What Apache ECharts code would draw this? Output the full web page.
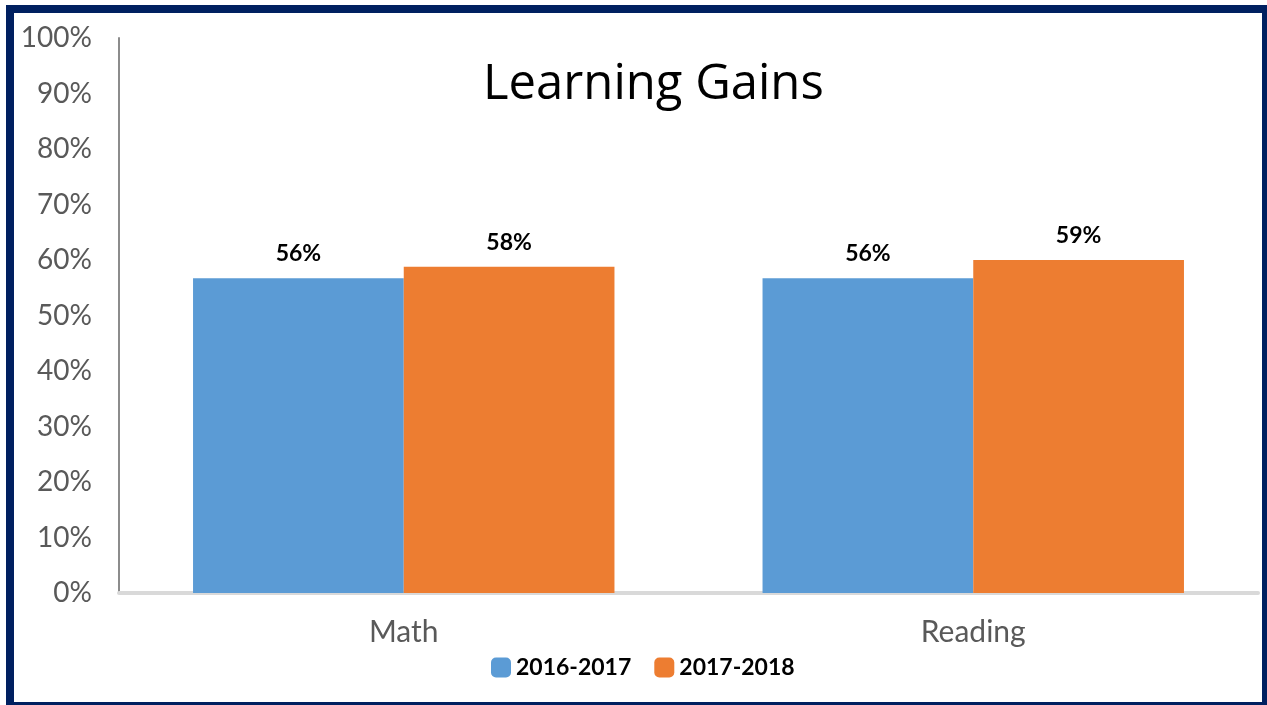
<!DOCTYPE html>
<html>
<head>
<meta charset="utf-8">
<title>Learning Gains</title>
<script src="https://cdn.jsdelivr.net/npm/echarts@6/dist/echarts.min.js"></script>
<style>
    html, body { margin: 0; padding: 0; background: #fff; overflow: hidden; }
    #main { width: 1267px; height: 705px; }
    #frame {
        position: absolute; left: 6px; top: 5px; width: 1264px; height: 705px;
        box-sizing: border-box; border: 8px solid #002060; pointer-events: none;
    }
</style>
</head>
<body>
<div id="main"></div>
<div id="frame"></div>
<script>
    // 数据
    var categories = ['Math', 'Reading'];
    var seriesNames = ['2016-2017', '2017-2018'];
    // bar heights
    var values1617 = [56.7, 56.7];
    var values1718 = [58.8, 60.0];
    // printed labels above the bars
    var labels1617 = ['56%', '56%'];
    var labels1718 = ['58%', '59%'];

    var myChart = echarts.init(document.getElementById('main'));

    function labelFrom(arr) {
        return {
            show: true,
            position: 'top',
            distance: 13,
            color: '#000',
            fontWeight: 'bold',
            fontSize: 23,
            fontFamily: 'Lato',
            formatter: function (p) { return arr[p.dataIndex]; }
        };
    }

    var option = {
        backgroundColor: '#fff',
        title: {
            text: 'Learning Gains',
            left: 478,
            top: 56,
            textStyle: { fontSize: 49, fontWeight: 'normal', color: '#000', fontFamily: 'Open Sans' }
        },
        legend: {
            data: seriesNames,
            left: 486,
            top: 651,
            itemWidth: 20,
            itemHeight: 20,
            itemGap: 23,
            icon: 'roundRect',
            textStyle: { fontSize: 23, fontWeight: 'bold', color: '#000', fontFamily: 'Lato' }
        },
        grid: { left: 119, right: 9, top: 38, bottom: 112 },
        xAxis: {
            type: 'category',
            data: categories,
            axisLine: { lineStyle: { color: '#d9d9d9', width: 4 } },
            axisTick: { show: false },
            axisLabel: { fontSize: 30, color: '#595959', margin: 24, fontFamily: 'Lato' }
        },
        yAxis: {
            type: 'value',
            min: 0,
            max: 100,
            interval: 10,
            axisLine: { show: true, lineStyle: { color: '#8c8c8c', width: 2 } },
            axisTick: { show: false },
            splitLine: { show: false },
            axisLabel: { formatter: '{value}%', fontSize: 28, color: '#595959', margin: 27, fontFamily: 'Lato' }
        },
        series: [
            {
                name: seriesNames[0],
                type: 'bar',
                data: values1617,
                barGap: 0,
                barCategoryGap: '26%',
                itemStyle: { color: '#5b9bd5' },
                label: labelFrom(labels1617)
            },
            {
                name: seriesNames[1],
                type: 'bar',
                data: values1718,
                itemStyle: { color: '#ed7d31' },
                label: labelFrom(labels1718)
            }
        ]
    };

    myChart.setOption(option);
</script>
</body>
</html>
